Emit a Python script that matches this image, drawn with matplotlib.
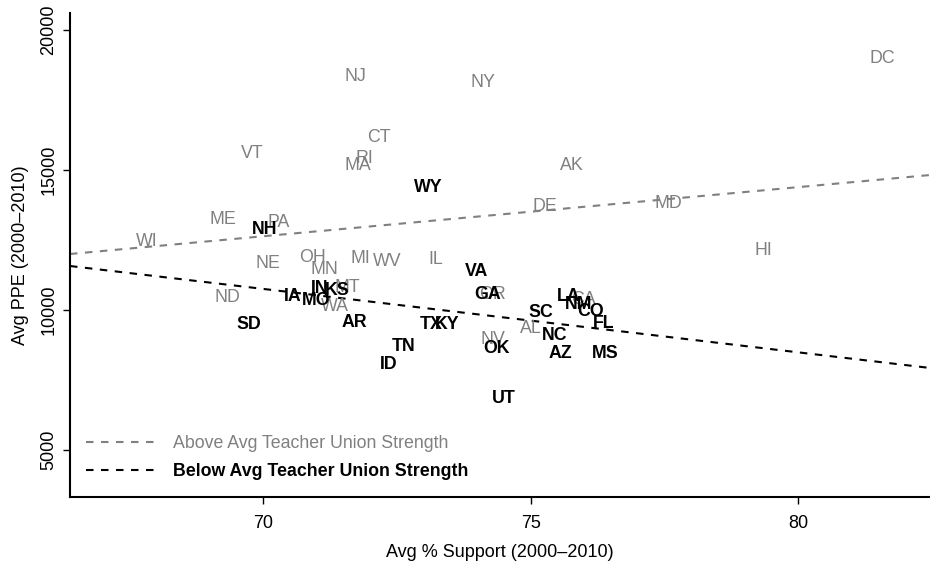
# Per-pupil expenditure vs. average % support, by state
# labels coloured by teacher union strength, with a fitted line for each group

import numpy as np
import matplotlib.pyplot as plt
from matplotlib.lines import Line2D

plt.rcParams['font.family'] = ['Liberation Sans', 'DejaVu Sans']

# states with above average teacher union strength (grey)
above_states = ["DC", "NJ", "NY", "CT", "VT", "RI", "MA", "AK", "DE", "MD",
                "ME", "PA", "WI", "HI", "NE", "OH", "MN", "MI", "WV", "IL",
                "MT", "WA", "ND", "OR", "AL", "NV", "CA"]
above_support = [81.56, 71.73, 74.10, 72.16, 69.79, 71.90, 71.76, 75.76, 75.27, 77.58,
                 69.25, 70.29, 67.82, 79.34, 70.09, 70.93, 71.15, 71.81, 72.31, 73.22,
                 71.58, 71.34, 69.34, 74.29, 75.00, 74.29, 75.98]
above_ppe = [19071, 18393, 18189, 16225, 15654, 15475, 15239, 15239, 13750, 13868,
             13296, 13189, 12500, 12214, 11725, 11929, 11500, 11904, 11821, 11857,
             10857, 10179, 10500, 10618, 9404, 9000, 10429]

# states with below average teacher union strength (black, bold)
below_states = ["WY", "NH", "VA", "IA", "IN", "KS", "MO", "AR", "SD", "GA",
                "TX", "KY", "TN", "ID", "OK", "SC", "LA", "NM", "CO", "FL",
                "NC", "AZ", "MS", "UT"]
below_support = [73.08, 70.03, 73.98, 70.56, 71.06, 71.38, 70.99, 71.70, 69.73, 74.19,
                 73.13, 73.43, 72.62, 72.35, 74.36, 75.19, 75.70, 75.90, 76.11, 76.37,
                 75.45, 75.56, 76.40, 74.50]
below_ppe = [14464, 12939, 11464, 10536, 10832, 10750, 10393, 9618, 9546, 10607,
             9546, 9536, 8768, 8107, 8679, 9982, 10571, 10250, 10000, 9582,
             9143, 8500, 8511, 6904]

# fitted lines (intercept, slope)
above_fit = [348.6, 175.5]
below_fit = [26615.0, -226.6]

x_ticks = [70, 75, 80]
y_ticks = [5000, 10000, 15000, 20000]

grey = '#808080'
fs = 12.8
dash = (3.6, 3.6)

fig = plt.figure(figsize=(9.3, 5.64), dpi=100)
ax = fig.add_axes([70/930, 67/564, 860/930, 484.3/564])
ax.set_xlim(66.39, 82.46)
ax.set_ylim(3321, 20618)

# fitted lines
x_line = np.array(ax.get_xlim())
ax.plot(x_line, above_fit[0] + above_fit[1]*x_line, color=grey, lw=1.5, dashes=dash)
ax.plot(x_line, below_fit[0] + below_fit[1]*x_line, color='black', lw=1.5, dashes=dash)

# state labels
for s, x, y in zip(above_states, above_support, above_ppe):
    ax.text(x, y, s, color=grey, fontsize=fs, ha='center', va='center_baseline')
for s, x, y in zip(below_states, below_support, below_ppe):
    ax.text(x, y, s, color='black', fontsize=fs, fontweight='bold',
            ha='center', va='center_baseline')

# axes appearance (R style "L" box)
ax.spines['top'].set_visible(False)
ax.spines['right'].set_visible(False)
ax.spines['left'].set_linewidth(1.5)
ax.spines['bottom'].set_linewidth(1.5)
ax.tick_params(axis='both', direction='out', length=5, width=1, labelsize=13)
ax.tick_params(axis='x', pad=8)
ax.tick_params(axis='y', pad=4)
ax.set_xticks(x_ticks, [str(t) for t in x_ticks])
ax.set_yticks(y_ticks, [str(t) for t in y_ticks], rotation=90, va='center')

ax.set_xlabel("Avg % Support (2000\u20132010)", fontsize=13, va='center')
ax.set_ylabel("Avg PPE (2000\u20132010)", fontsize=13, va='center')
ax.xaxis.set_label_coords(0.5, -0.115)
ax.yaxis.set_label_coords(-0.058, 0.5)

# legend
handles = [Line2D([0], [0], color=grey, lw=1.5, dashes=dash),
           Line2D([0], [0], color='black', lw=1.5, dashes=dash)]
leg = ax.legend(handles, ["Above Avg Teacher Union Strength", "Below Avg Teacher Union Strength"],
                loc='lower left', bbox_to_anchor=(0.0186, 0.035), frameon=False,
                fontsize=fs, borderpad=0, borderaxespad=0, handlelength=4.0,
                handletextpad=0.92, labelspacing=0.62)
leg.get_texts()[0].set_color(grey)
leg.get_texts()[1].set_fontweight('bold')

fig.savefig('out.png', dpi=100)
